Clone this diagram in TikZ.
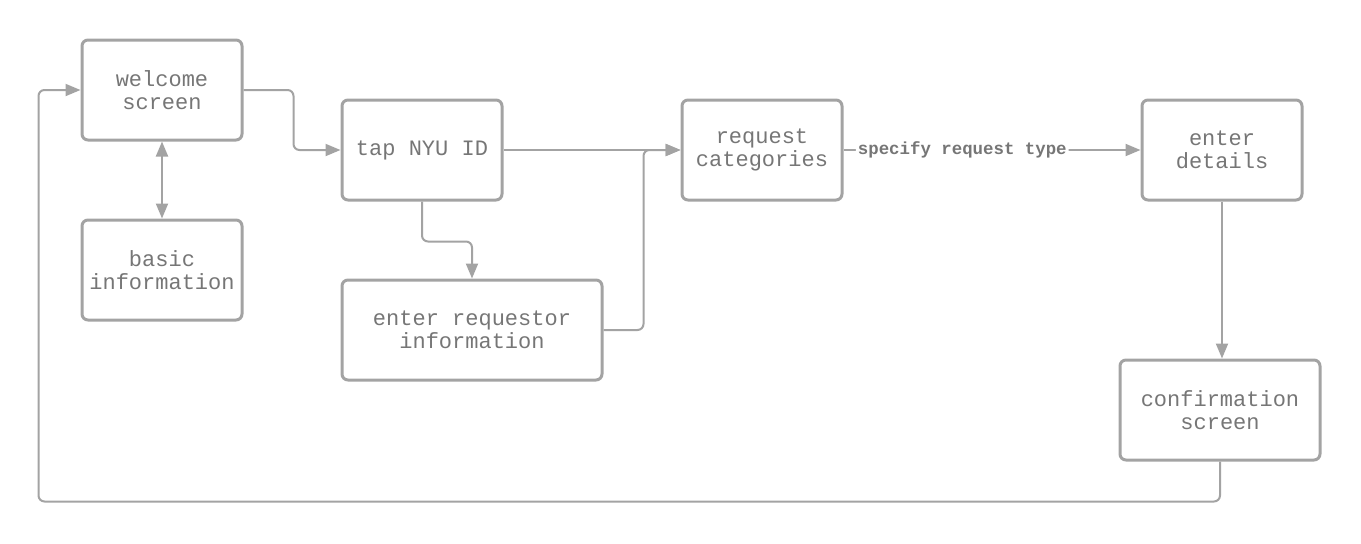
\documentclass[tikz,border=0pt]{standalone}
\usepackage{fontspec}
\setmonofont{Liberation Mono}
\definecolor{linegray}{HTML}{A3A3A3}
\definecolor{textgray}{HTML}{767676}
\usepackage{tikz}
\usetikzlibrary{calc}
\usetikzlibrary{positioning}
\usetikzlibrary{arrows.meta}

\begin{document}
\begin{tikzpicture}[>={Triangle[length=7.5pt,width=6pt]}, x=0.5pt, y=-0.5pt]
	\useasboundingbox (0,0) rectangle (1361,543);
	% ------------------------------------------------------------------
	% STYLE DEFINITIONS
	% ------------------------------------------------------------------
	\tikzset{
		screen/.style = {draw=linegray, line width=1.5pt, rounded corners=3pt,
			minimum width=80pt, minimum height=50pt, align=center,
			text=textgray, font=\ttfamily\fontsize{11}{11.5}\selectfont},
		conn/.style   = {draw=linegray, line width=1pt, rounded corners=3pt, ->},
		flowlbl/.style = {fill=white, inner sep=1pt, text=textgray,
			font=\ttfamily\bfseries\fontsize{8.7}{10}\selectfont}
	}
	
	% --- Screens ---
	\node[screen] (welcome) at (162,90) {welcome\\screen};
	\node[screen] (basic) at (162,270) {basic\\information};
	\node[screen] (tap) at (422,150) {tap NYU ID};
	\node[screen, minimum width=130pt] (requestor) at (472,330) {enter requestor\\information};
	\node[screen] (categories) at (762,150) {request\\categories};
	\node[screen] (details) at (1222,150) {enter\\details};
	\node[screen, minimum width=100pt] (confirm) at (1220,410) {confirmation\\screen};
	
	% --- Connectors ---
	\draw[conn] (welcome.east) -- ++(25pt,0) |- (tap.west);
	\draw[conn,<->] (welcome) -- (basic);
	\draw[conn] (tap) -- (categories);
	\draw[conn] (tap.south) -- ++(0,-20pt) -| (requestor.north);
	\draw[conn] (requestor.east) -- ++(20pt,0) |- (categories.west);
	\draw[conn] (categories) -- (details) node[flowlbl, pos=0.4] {specify request type};
	\draw[conn] (details.south) -- (details.south |- confirm.north);
	
	% back to the start
	\draw[conn] (confirm.south) -- ++(0,-20pt) -| ([xshift=-21pt]welcome.west) -- (welcome.west);
	
\end{tikzpicture}
\end{document}
